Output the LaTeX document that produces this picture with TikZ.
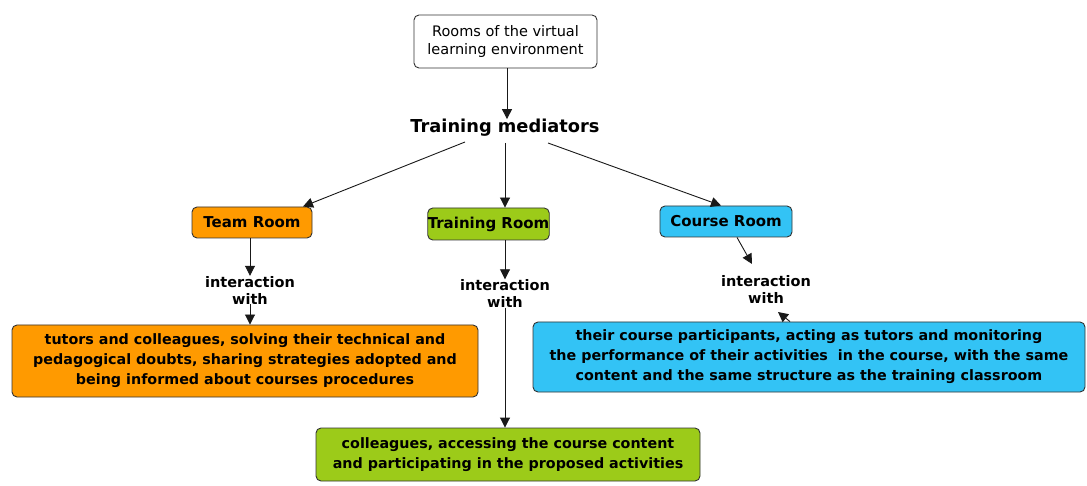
\documentclass[tikz,border=0pt]{standalone}
\usepackage{fontspec}
\setmainfont{DejaVu Sans}
\usetikzlibrary{arrows.meta}
\definecolor{orangebox}{HTML}{FF9A00}
\definecolor{greenbox}{HTML}{9CCB19}
\definecolor{bluebox}{HTML}{33C3F5}
\begin{document}
\begin{tikzpicture}[x=1pt,y=-1pt,
  box/.style={draw=black!80, line width=0.9pt, rounded corners=5pt, align=center, inner sep=0pt, font=\fontsize{14.3}{20}\selectfont\bfseries},
  lbl/.style={align=center, inner sep=0pt, font=\fontsize{14.5}{17}\selectfont\bfseries},
  arr/.style={-{Triangle[length=10pt,width=10pt]}, line width=0.9pt, black!90},
  ln/.style={line width=0.9pt, black!90}]
\useasboundingbox (0,0) rectangle (1087,486);
\node[box, font=\fontsize{14.5}{18}\selectfont, fill=white, minimum width=183pt, minimum height=53pt] (top) at (505.5,41.5) {Rooms of the virtual\\learning environment};
\node[lbl, font=\fontsize{17.8}{20}\selectfont\bfseries] (med) at (505,128) {Training mediators};
\node[box, font=\fontsize{15}{18}\selectfont\bfseries, fill=orangebox, minimum width=120pt, minimum height=31pt] (team) at (252,222.5) {Team Room};
\node[box, font=\fontsize{15}{18}\selectfont\bfseries, fill=greenbox, minimum width=117pt, minimum height=32pt] (train) at (488.5,224) {Training Room};
\node[box, font=\fontsize{15}{18}\selectfont\bfseries, fill=bluebox, minimum width=132pt, minimum height=31pt] (course) at (726,221.5) {Course Room};
\node[lbl] (i1) at (250,290) {interaction\\with};
\node[lbl] (i2) at (505,293.5) {interaction\\with};
\node[lbl] (i3) at (766,289) {interaction\\with};
\node[box, fill=orangebox, minimum width=466pt, minimum height=72pt] (obox) at (245,361) {tutors and colleagues, solving their technical and\\pedagogical doubts, sharing strategies adopted and\\being informed about courses procedures};
\node[box, fill=bluebox, minimum width=552pt, minimum height=70pt] (bbox) at (809,357) {their course participants, acting as tutors and monitoring\\the performance of their activities\ \ in the course, with the same\\content and the same structure as the training classroom};
\node[box, fill=greenbox, minimum width=384pt, minimum height=53pt] (gbox) at (508,454.5) {colleagues, accessing the course content\\and participating in the proposed activities};
\coordinate (tip) at (778,312);
\draw[arr] (top.south -| 507,0) -- (med.north -| 507,0);
\draw[arr] (465,142) -- (team.north -| 303,0);
\draw[arr] (505,143) -- (train.north -| 505,0);
\draw[arr] (548,143) -- (course.north -| 721,0);
\draw[arr] (team.south -| 250,0) -- (i1.north -| 250,0);
\draw[arr] (i1.south -| 250,0) -- (obox.north -| 250,0);
\draw[arr] (train.south -| 505,0) -- (i2.north -| 505,0);
\draw[arr] (i2.south -| 505,0) -- (gbox.north -| 505,0);
\draw[arr] (course.south -| 737,0) -- (752,264);
\draw[arr] (bbox.north -| 790,0) -- (tip);
\end{tikzpicture}
\end{document}
